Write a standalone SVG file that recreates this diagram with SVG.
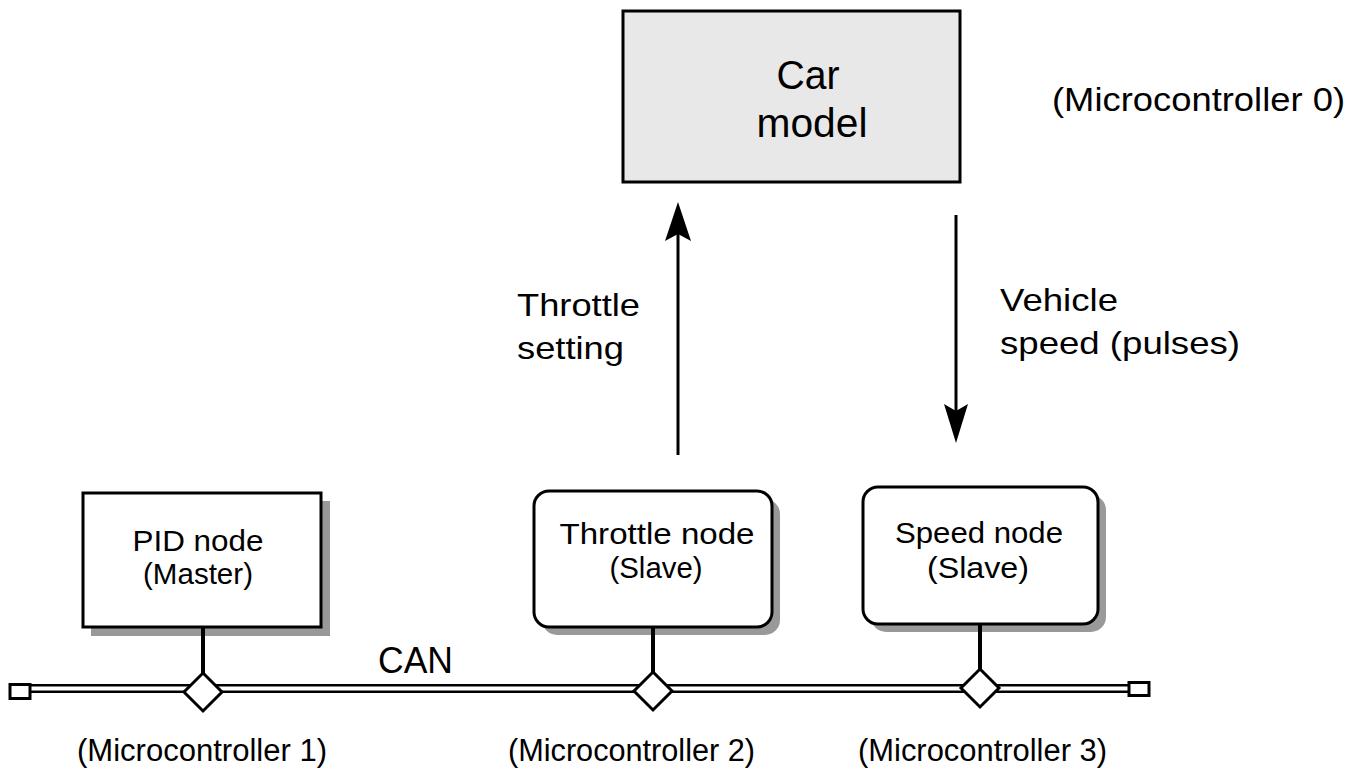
<svg xmlns="http://www.w3.org/2000/svg" width="1366" height="769" viewBox="0 0 1366 769">
<style>
text{font-family:"Liberation Sans",Arial,sans-serif;fill:#000}
.box{stroke:#000;stroke-width:3}
.shadow{fill:#999}
.stem{stroke:#000;stroke-width:4}
.dia{fill:#fff;stroke:#000;stroke-width:3}
.arr{stroke:#000;stroke-width:3;fill:none}
</style>
<rect width="1366" height="769" fill="#fff"/>

<g id="car-model">
<rect class="box" x="623" y="11" width="337" height="171" fill="#e8e8e8"/>
<text x="808" y="89" font-size="40" text-anchor="middle" textLength="63" lengthAdjust="spacingAndGlyphs">Car</text>
<text x="812" y="137" font-size="40" text-anchor="middle" textLength="111" lengthAdjust="spacingAndGlyphs">model</text>
</g>
<text x="1052" y="111" font-size="33" textLength="293" lengthAdjust="spacingAndGlyphs">(Microcontroller 0)</text>

<g id="pid-node">
<rect class="shadow" x="91" y="501" width="239" height="135"/>
<rect class="box" x="83" y="493" width="238" height="134" fill="#fff"/>
<text x="198" y="551" font-size="29" text-anchor="middle" textLength="131" lengthAdjust="spacingAndGlyphs">PID node</text>
<text x="198" y="584" font-size="29" text-anchor="middle" textLength="110" lengthAdjust="spacingAndGlyphs">(Master)</text>
</g>

<g id="throttle-node">
<rect class="shadow" x="542" y="499" width="238" height="136" rx="15"/>
<rect class="box" x="534" y="491" width="238" height="136" rx="15" fill="#fff"/>
<text x="657" y="544" font-size="29" text-anchor="middle" textLength="195" lengthAdjust="spacingAndGlyphs">Throttle node</text>
<text x="656" y="578" font-size="29" text-anchor="middle" textLength="93" lengthAdjust="spacingAndGlyphs">(Slave)</text>
</g>

<g id="speed-node">
<rect class="shadow" x="871" y="495" width="235" height="137" rx="15"/>
<rect class="box" x="863" y="487" width="235" height="137" rx="15" fill="#fff"/>
<text x="979" y="543" font-size="29" text-anchor="middle" textLength="168" lengthAdjust="spacingAndGlyphs">Speed node</text>
<text x="978" y="578" font-size="29" text-anchor="middle" textLength="102" lengthAdjust="spacingAndGlyphs">(Slave)</text>
</g>

<g id="can-bus">
<line x1="28" y1="688.5" x2="1130" y2="688.5" stroke="#000" stroke-width="9"/>
<line x1="28" y1="688.5" x2="1130" y2="688.5" stroke="#fff" stroke-width="4"/>
<rect x="10" y="684.5" width="20" height="14" fill="#fff" stroke="#000" stroke-width="3"/>
<rect x="1129" y="682.5" width="20" height="13" fill="#fff" stroke="#000" stroke-width="3"/>
<text x="378" y="673" font-size="36" textLength="75" lengthAdjust="spacingAndGlyphs">CAN</text>
</g>

<g id="connectors">
<line class="stem" x1="203" y1="627" x2="203" y2="674"/>
<line class="stem" x1="653" y1="627" x2="653" y2="673"/>
<line class="stem" x1="980" y1="624" x2="980" y2="670"/>
<polygon class="dia" points="203,673 222,692 203,711 184,692"/>
<polygon class="dia" points="653,672 672,691 653,710 634,691"/>
<polygon class="dia" points="980,669 999,688 980,707 961,688"/>
<line class="arr" x1="678" y1="455" x2="678" y2="232"/>
<polygon points="678,202 691,241 678,234 665,241" fill="#000"/>
<line class="arr" x1="956" y1="215" x2="956" y2="412"/>
<polygon points="956,443 968,404 956,411 944,404" fill="#000"/>
</g>

<g id="labels">
<text x="517" y="316" font-size="32" textLength="123" lengthAdjust="spacingAndGlyphs">Throttle</text>
<text x="517" y="359" font-size="32" textLength="107" lengthAdjust="spacingAndGlyphs">setting</text>
<text x="1000" y="311" font-size="32" textLength="118" lengthAdjust="spacingAndGlyphs">Vehicle</text>
<text x="1000" y="354" font-size="32" textLength="240" lengthAdjust="spacingAndGlyphs">speed (pulses)</text>
<text x="77" y="761" font-size="31" textLength="250" lengthAdjust="spacingAndGlyphs">(Microcontroller 1)</text>
<text x="508" y="761" font-size="31" textLength="247" lengthAdjust="spacingAndGlyphs">(Microcontroller 2)</text>
<text x="858" y="761" font-size="31" textLength="249" lengthAdjust="spacingAndGlyphs">(Microcontroller 3)</text>
</g>
</svg>
